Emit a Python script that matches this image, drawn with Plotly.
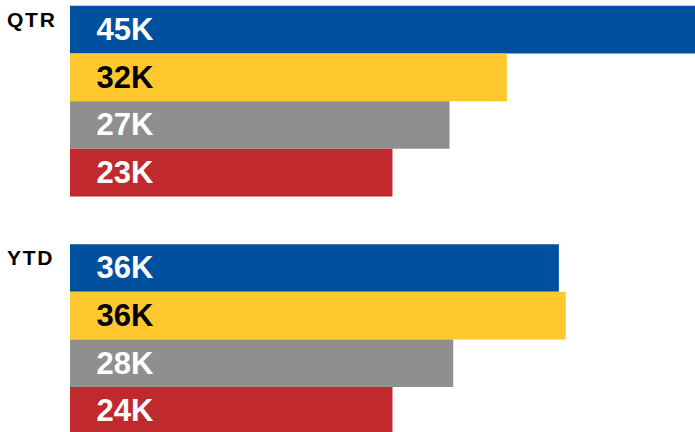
import plotly.graph_objects as go

groups = ["QTR", "YTD"]
series_names = ["Series 1", "Series 2", "Series 3", "Series 4"]
blue_vals = [45.45, 35.55]
yellow_vals = [31.77, 36.04]
gray_vals = [27.6, 27.87]
red_vals = [23.45, 23.45]
blue_labels = ["45K", "36K"]
yellow_labels = ["32K", "36K"]
gray_labels = ["27K", "28K"]
red_labels = ["23K", "24K"]

colors = ["#0050a0", "#fec82e", "#8f8f8f", "#c0292d"]
text_colors = ["white", "black", "white", "white"]
all_vals = [blue_vals, yellow_vals, gray_vals, red_vals]
all_labels = [blue_labels, yellow_labels, gray_labels, red_labels]

PAD = "\u00a0\u00a0\u2009"
FONT = "Liberation Sans, Arial, sans-serif"

fig = go.Figure()
for name, vals, labels, c, tc in zip(series_names, all_vals, all_labels, colors, text_colors):
    fig.add_trace(go.Bar(
        y=groups, x=vals, orientation="h", name=name,
        marker=dict(color=c, line=dict(width=0)),
        text=[PAD + t for t in labels],
        textposition="inside", insidetextanchor="start", textangle=0,
        insidetextfont=dict(family=FONT, size=31, color=tc, weight="bold"),
        hoverinfo="skip",
    ))

for g in groups:
    fig.add_annotation(
        x=0, xref="paper", xshift=-65, xanchor="left",
        y=g, yref="y", yshift=82, yanchor="middle",
        text="\u200a".join(list(g)), showarrow=False,
        font=dict(family=FONT, size=21, color="black", weight="bold"),
    )

fig.update_layout(
    width=695, height=432,
    margin=dict(l=70, r=0, t=0, b=0),
    barmode="group", bargap=0.2, bargroupgap=0,
    showlegend=False,
    plot_bgcolor="white", paper_bgcolor="white",
    xaxis=dict(range=[0, 45.45], visible=False, fixedrange=True),
    yaxis=dict(range=[1.3884, -0.4245], visible=False, fixedrange=True),
)

fig.write_html("out.html", config={"displayModeBar": False},
               post_script="document.body.style.margin='0';document.body.style.overflow='hidden';")
